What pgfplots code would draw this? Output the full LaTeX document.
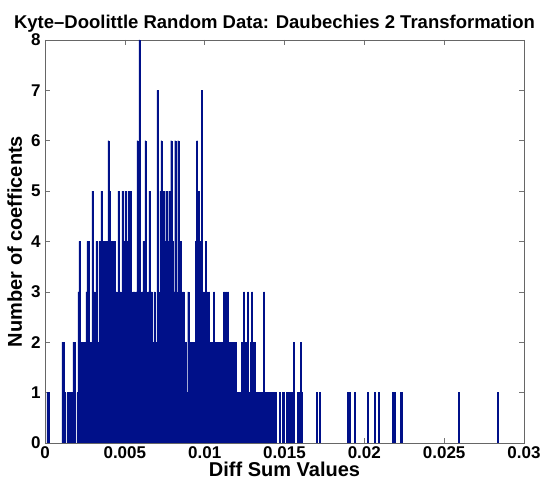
\documentclass[border=0pt]{standalone}
\usepackage{fontspec}
\setmainfont{Liberation Sans}
\usepackage{pgfplots}
\usepackage{pgfplotstable}
\pgfplotsset{compat=1.18}
\definecolor{barblue}{RGB}{0,16,137}
\pgfplotstableread{
k h
2 1
3 1
17 2
18 2
19 1
22 1
23 1
24 1
25 1
26 1
27 1
28 2
29 2
32 1
33 3
34 4
35 2
36 1
37 2
38 1
39 2
40 2
41 3
42 4
43 4
44 2
45 1
46 2
47 5
48 2
49 3
50 2
51 4
52 1
53 2
54 4
55 2
56 5
57 4
58 4
59 2
60 4
61 3
62 4
63 6
64 5
65 4
66 3
67 4
68 2
69 4
70 1
71 3
72 2
73 5
74 3
75 3
77 5
78 4
79 3
80 5
81 4
82 3
83 5
84 4
85 5
86 3
87 2
88 3
89 3
90 1
91 3
92 6
93 3
94 8
95 3
96 1
97 3
98 4
99 2
100 6
101 3
102 1
103 3
104 5
105 2
106 3
107 1
108 2
109 3
110 2
111 2
112 7
113 3
114 2
115 5
116 6
117 4
118 5
119 2
120 4
121 5
122 4
123 1
124 5
125 3
126 6
127 4
128 2
129 3
130 6
131 3
132 1
133 6
134 2
135 4
136 3
137 2
138 3
139 1
140 2
141 1
142 1
143 3
144 2
145 1
146 2
147 2
148 1
149 2
150 2
151 4
152 6
153 5
154 5
155 2
156 4
157 7
158 3
159 2
160 3
161 4
162 3
163 1
164 3
165 1
166 2
167 2
168 1
169 3
170 2
171 1
172 2
173 1
174 2
175 2
176 1
177 2
178 1
179 3
180 2
181 3
182 2
183 3
184 2
185 1
186 2
187 2
188 1
189 2
190 1
191 2
192 1
193 1
195 1
196 1
197 2
198 1
199 3
200 1
201 2
203 3
204 1
205 1
206 2
207 3
208 2
209 1
210 2
211 1
212 1
214 1
215 1
216 1
217 1
219 3
220 1
222 1
223 1
224 1
226 1
228 1
229 1
231 1
235 1
238 1
239 1
242 1
243 1
245 1
246 1
247 1
249 2
253 1
254 1
256 2
257 1
272 1
275 1
303 1
305 1
310 1
323 1
330 1
334 1
348 1
350 1
356 1
357 1
414 1
453 1
}\bins
\begin{document}
\begin{tikzpicture}
\begin{axis}[
  scale only axis,
  width=479pt, height=403pt,
  xmin=0, xmax=0.03, ymin=0, ymax=8,
  xtick={0,0.005,0.01,0.015,0.02,0.025,0.03},
  xticklabels={0,0.005,0.01,0.015,0.02,0.025,0.03},
  ytick={0,1,2,3,4,5,6,7,8},
  scaled x ticks=false,
  tick align=inside,
  major tick length=5pt,
  tick style={color=black!55, line width=0.5pt},
  axis line style={color=black!60, line width=0.6pt},
  /pgf/number format/assume math mode=true,
  ticklabel style={font=\fontsize{17}{17}\selectfont\bfseries},
  xticklabel style={yshift=0pt},
  yticklabel style={xshift=-1pt},
  xlabel={Diff Sum Values},
  ylabel={Number of coefficents},
  label style={font=\fontsize{20}{20}\selectfont\bfseries},
  xlabel style={yshift=3pt},
  ylabel style={yshift=2pt},
  title={Kyte–Doolittle Random Data: Daubechies 2 Transformation},
  title style={font=\fontsize{18.5}{19}\selectfont\bfseries, yshift=-2pt, xshift=-10pt},
]
\addplot[ybar, bar width=0.0000625, bar shift=0pt, fill=barblue, draw=barblue, line width=0.4pt]
  table[x expr={(\thisrow{k}+0.5)/16000}, y=h] {\bins};
\addplot[barblue, line width=0.8pt] coordinates {(0,0) (0.03,0)};
\end{axis}
\path (current axis.south west) ++(-45pt,-45pt) coordinate (bbsw);
\path (current axis.north east) ++(21pt,40pt) coordinate (bbne);
\path (bbsw) rectangle (bbne);
\end{tikzpicture}
\end{document}
